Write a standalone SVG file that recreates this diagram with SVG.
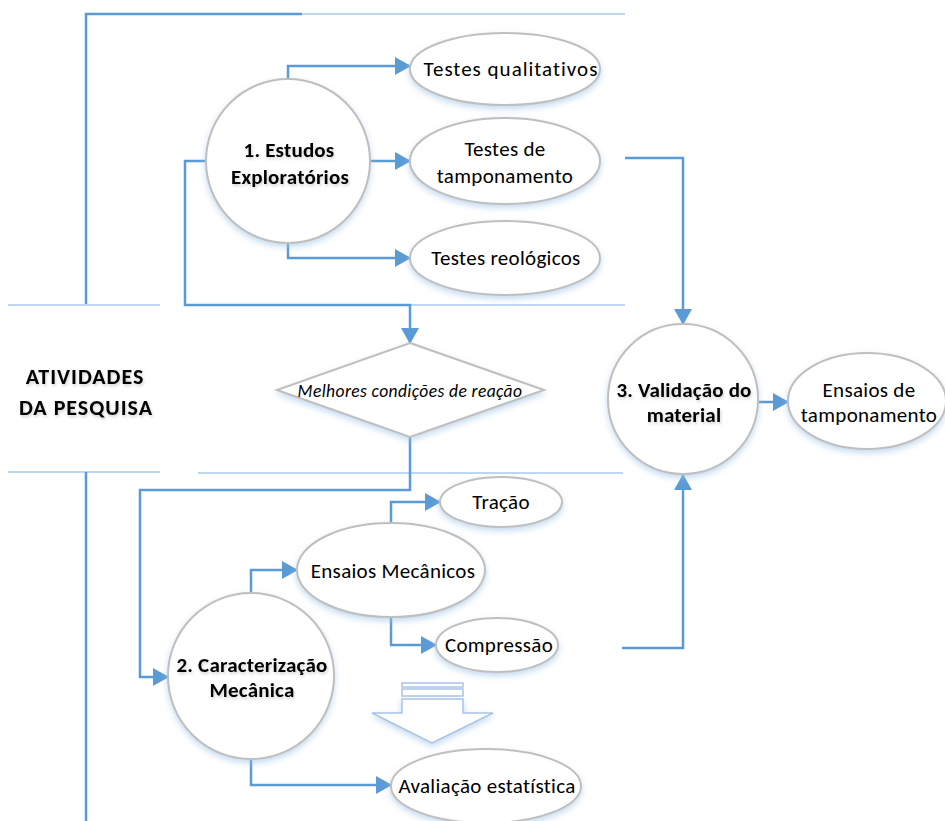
<svg xmlns="http://www.w3.org/2000/svg" width="945" height="821" viewBox="0 0 945 821">
<defs>
  <marker id="arr" markerUnits="userSpaceOnUse" markerWidth="16" markerHeight="18" refX="15" refY="9" orient="auto">
    <path d="M0,0 L16,9 L0,18 z" fill="#5b9bd5"/>
  </marker>
  <filter id="sh" x="-20%" y="-20%" width="140%" height="150%">
    <feDropShadow dx="0" dy="3" stdDeviation="3" flood-color="#9dc3e6" flood-opacity="0.6"/>
  </filter>
  <filter id="tsh" x="-10%" y="-30%" width="120%" height="160%">
    <feDropShadow dx="1" dy="2" stdDeviation="1.5" flood-color="#000" flood-opacity="0.18"/>
  </filter>
</defs>
<style>
  .node { fill: #ffffff; stroke: #bfbfbf; stroke-width: 2; filter: url(#sh); }
  .conn { fill: none; stroke: #5b9bd5; stroke-width: 2.5; }
  .lane { fill: none; stroke: #bdd7ee; stroke-width: 2; }
  .lane2 { fill: none; stroke: #5b9bd5; stroke-width: 2.5; }
  text { font-family: Carlito, Lato, "Liberation Sans", sans-serif; fill: #000; text-anchor: middle; }
  .t { font-size: 21px; letter-spacing: 0.3px; }
  .b { font-size: 21px; font-weight: bold; letter-spacing: 0.2px; filter: url(#tsh); }
  .h { font-size: 22px; font-weight: bold; letter-spacing: 1px; filter: url(#tsh); }
  .i { font-size: 17.5px; font-style: italic; letter-spacing: 0.4px; }
</style>
<rect width="945" height="821" fill="#ffffff"/>

<g id="lanes">
  <path class="lane2" d="M86,305 V14 H302"/>
  <path class="lane" d="M302,14 H625"/>
  <path class="lane" d="M8,305 H160"/>
  <path class="lane" d="M410,305 H625"/>
  <path class="lane" d="M8,472 H160"/>
  <path class="lane" d="M198,473 H623"/>
  <path class="lane2" d="M86,472 V821"/>
  <text class="h" x="85" y="384">ATIVIDADES</text>
  <text class="h" x="86" y="415">DA PESQUISA</text>
</g>

<g id="connectors">
  <path class="conn" d="M288,80 V66 H410" marker-end="url(#arr)"/>
  <path class="conn" d="M370,161 H410" marker-end="url(#arr)"/>
  <path class="conn" d="M288,243 V258 H410" marker-end="url(#arr)"/>
  <path class="conn" d="M207,161 H185 V305 H410 V343" marker-end="url(#arr)"/>
  <path class="conn" d="M625,158 H683 V324" marker-end="url(#arr)"/>
  <path class="conn" d="M622,648 H683 V475" marker-end="url(#arr)"/>
  <path class="conn" d="M759,402 H788" marker-end="url(#arr)"/>
  <path class="conn" d="M410,437 V490 H140 V677 H168" marker-end="url(#arr)"/>
  <path class="conn" d="M251,593 V570 H297" marker-end="url(#arr)"/>
  <path class="conn" d="M391,523 V502 H440" marker-end="url(#arr)"/>
  <path class="conn" d="M391,617 V645 H436" marker-end="url(#arr)"/>
  <path class="conn" d="M251,759 V785 H391" marker-end="url(#arr)"/>
</g>

<g id="n1">
  <circle class="node" cx="288" cy="161" r="82"/>
  <text class="b" x="289" y="157">1. Estudos</text>
  <text class="b" x="290" y="184">Exploratórios</text>
</g>
<g id="n_qual">
  <ellipse class="node" cx="505" cy="69" rx="95" ry="36"/>
  <text class="t" x="511" y="76" style="letter-spacing:1px">Testes qualitativos</text>
</g>
<g id="n_tamp">
  <ellipse class="node" cx="505" cy="161" rx="95" ry="43"/>
  <text class="t" x="505" y="156">Testes de</text>
  <text class="t" x="505" y="183">tamponamento</text>
</g>
<g id="n_reol">
  <ellipse class="node" cx="505" cy="258" rx="95" ry="37"/>
  <text class="t" x="506" y="265">Testes reológicos</text>
</g>
<g id="n_diam">
  <polygon class="node" points="410,343 544,390 410,437 277,390"/>
  <text class="i" x="410" y="397">Melhores condições de reação</text>
</g>
<g id="n3">
  <circle class="node" cx="683" cy="399" r="75"/>
  <text class="b" x="684" y="397">3. Validação do</text>
  <text class="b" x="684" y="422">material</text>
</g>
<g id="n_ens_tamp">
  <ellipse class="node" cx="867" cy="401" rx="79" ry="48"/>
  <text class="t" x="869" y="397">Ensaios de</text>
  <text class="t" x="869" y="422">tamponamento</text>
</g>
<g id="n2">
  <circle class="node" cx="251" cy="676" r="83"/>
  <text class="b" x="252" y="672">2. Caracterização</text>
  <text class="b" x="252" y="697">Mecânica</text>
</g>
<g id="n_mec">
  <ellipse class="node" cx="391" cy="570" rx="94" ry="47"/>
  <text class="t" x="393" y="578">Ensaios Mecânicos</text>
</g>
<g id="n_tracao">
  <ellipse class="node" cx="501" cy="502" rx="61" ry="25"/>
  <text class="t" x="501" y="509">Tração</text>
</g>
<g id="n_comp">
  <ellipse class="node" cx="497" cy="645" rx="61" ry="27"/>
  <text class="t" x="499" y="652">Compressão</text>
</g>
<g id="n_aval">
  <ellipse class="node" cx="486" cy="786" rx="95" ry="37"/>
  <text class="t" x="487" y="793">Avaliação estatística</text>
</g>
<g id="blockarrow">
  <rect x="402" y="683" width="61" height="4" fill="#fff" stroke="#a9c4e8" stroke-width="1.5"/>
  <rect x="402" y="689" width="61" height="7" fill="#fff" stroke="#a9c4e8" stroke-width="1.5"/>
  <polygon points="402,699 463,699 463,713 493,713 432,743 372,713 402,713" fill="#fff" stroke="#a9c4e8" stroke-width="1.5" filter="url(#sh)"/>
</g>
</svg>
